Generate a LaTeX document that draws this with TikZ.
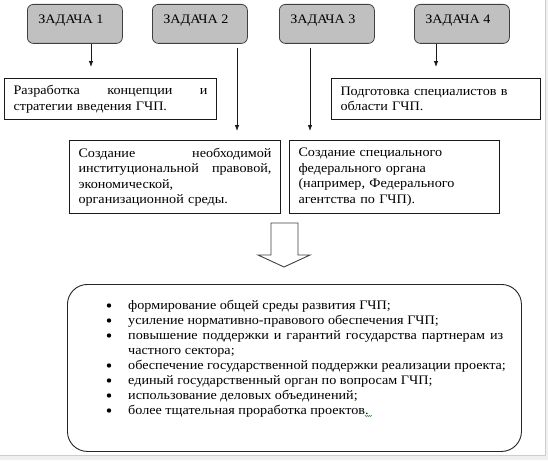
\documentclass[tikz,border=0pt]{standalone}
\usepackage{fontspec}
\setmainfont[FakeStretch=1.09]{Liberation Serif}
\usetikzlibrary{arrows.meta,decorations.pathmorphing}
\definecolor{taskgray}{HTML}{C0C0C0}
\definecolor{pagegray}{HTML}{F0F0F0}
\definecolor{edgegray}{HTML}{CDCDCD}
\definecolor{inkline}{HTML}{1A1A1A}
\definecolor{spellgreen}{HTML}{3FA03F}
\newcommand{\fs}{\fontsize{13}{15.5}\selectfont}
\begin{document}
\begin{tikzpicture}[x=1pt,y=-1pt,
  task/.style={draw=black!75, fill=taskgray, rounded corners=6pt, line width=0.8pt,
    minimum width=95pt, minimum height=39pt, inner sep=0pt, anchor=north west},
  tasklabel/.style={inner sep=0pt, font=\fs},
  tbox/.style={draw=inkline, line width=1pt, anchor=north west, inner xsep=9pt,
    inner ysep=0pt, align=left, font=\fs},
  conn/.style={draw=inkline, line width=0.8pt, -{Latex[length=6pt,width=4.5pt]}},
  bul/.style={circle, fill=black, inner sep=0pt, minimum size=4.4pt},
  line/.style={anchor=base west, inner sep=0pt, font=\fs},
]
\useasboundingbox (0,0) rectangle (548,460);
\fill[pagegray] (0,0) rectangle (548,460);
\fill[white] (0,0) rectangle (545.5,455.5);
\draw[edgegray, line width=0.8pt] (545.5,0) -- (545.5,455.5) -- (0,455.5);

% task boxes
\node[task] (T1) at (27,4) {};
\node[task] (T2) at (152,4) {};
\node[task] (T3) at (279,4) {};
\node[task] (T4) at (414,4) {};
\node[tasklabel] (t1) at ([xshift=-4pt,yshift=3.5pt]T1.center) {ЗАДАЧА 1};
\node[tasklabel] (t2) at ([xshift=-4pt,yshift=3.5pt]T2.center) {ЗАДАЧА 2};
\node[tasklabel] (t3) at ([xshift=-4pt,yshift=3.5pt]T3.center) {ЗАДАЧА 3};
\node[tasklabel] (t4) at ([xshift=-4pt,yshift=3.5pt]T4.center) {ЗАДАЧА 4};

% first level boxes
\node[tbox, text width=194pt, minimum height=41pt] (B1) at (4,78)
  {Разработка\hfill концепции\hfill и\\ стратегии введения ГЧП.};
\node[tbox, text width=191pt, minimum height=41pt] (B4) at (331,78)
  {Подготовка специалистов в\\ области ГЧП.};
\node[tbox, text width=193pt, minimum height=73pt] (B2) at (69,140)
  {Создание\hfill необходимой\\ институциональной\hfill правовой,\\ экономической,\\ организационной\ среды.};
\node[tbox, text width=192pt, minimum height=73pt] (B3) at (289,140)
  {Создание специального\\ федерального органа\\ (например, Федерального\\ агентства по ГЧП).};

% connectors
\draw[conn] ([xshift=64pt]T1.south west) -- ([xshift=87pt,yshift=11pt]B1.north west);
\draw[conn] ([xshift=85pt,yshift=-4pt]T2.south west) -- ([xshift=168pt,yshift=9pt]B2.north west);
\draw[conn] ([xshift=31pt,yshift=-4pt]T3.south west) -- ([xshift=21pt,yshift=9pt]B3.north west);
\draw[conn] ([xshift=22pt]T4.south west) -- ([xshift=105pt,yshift=11pt]B4.north west);

% block arrow
\draw[draw=black!75, line width=0.9pt, fill=white, line join=miter]
  (271,223) -- (298,223) -- (298,255) -- (310,255) -- (284,267) -- (258,255) -- (271,255) -- cycle;

% result box
\node[draw=black!85, line width=0.9pt, rounded corners=20pt, minimum width=454pt,
  minimum height=167pt, inner sep=0pt, anchor=north west] (R) at (67,284) {};

\node[bul] (u1) at (109,305.5) {};
\node[bul] (u2) at (109,320.5) {};
\node[bul] (u3) at (109,335.5) {};
\node[bul] (u5) at (109,365.5) {};
\node[bul] (u6) at (109,380.5) {};
\node[bul] (u7) at (109,395.5) {};
\node[bul] (u8) at (109,410.5) {};

\node[line] (L1) at (128,309) {формирование общей среды развития ГЧП;};
\node[line] (L2) at (128,324) {усиление нормативно-правового обеспечения ГЧП;};
\node[line] (L3) at (128,339) {\makebox[375pt][s]{повышение поддержки и гарантий государства партнерам из}};
\node[line] (L4) at (128,354) {частного сектора;};
\node[line] (L5) at (128,369) {обеспечение государственной поддержки реализации проекта;};
\node[line] (L6) at (128,384) {единый государственный орган по вопросам ГЧП;};
\node[line] (L7) at (128,399) {использование деловых объединений;};
\node[line] (L8) at (128,414) {более тщательная проработка проектов.};
\draw[spellgreen, line width=0.5pt, decorate,
  decoration={zigzag, amplitude=0.7pt, segment length=2pt}]
  ([xshift=-4pt,yshift=-2pt]L8.base east) -- ([xshift=3pt,yshift=-2pt]L8.base east);
\end{tikzpicture}
\end{document}
